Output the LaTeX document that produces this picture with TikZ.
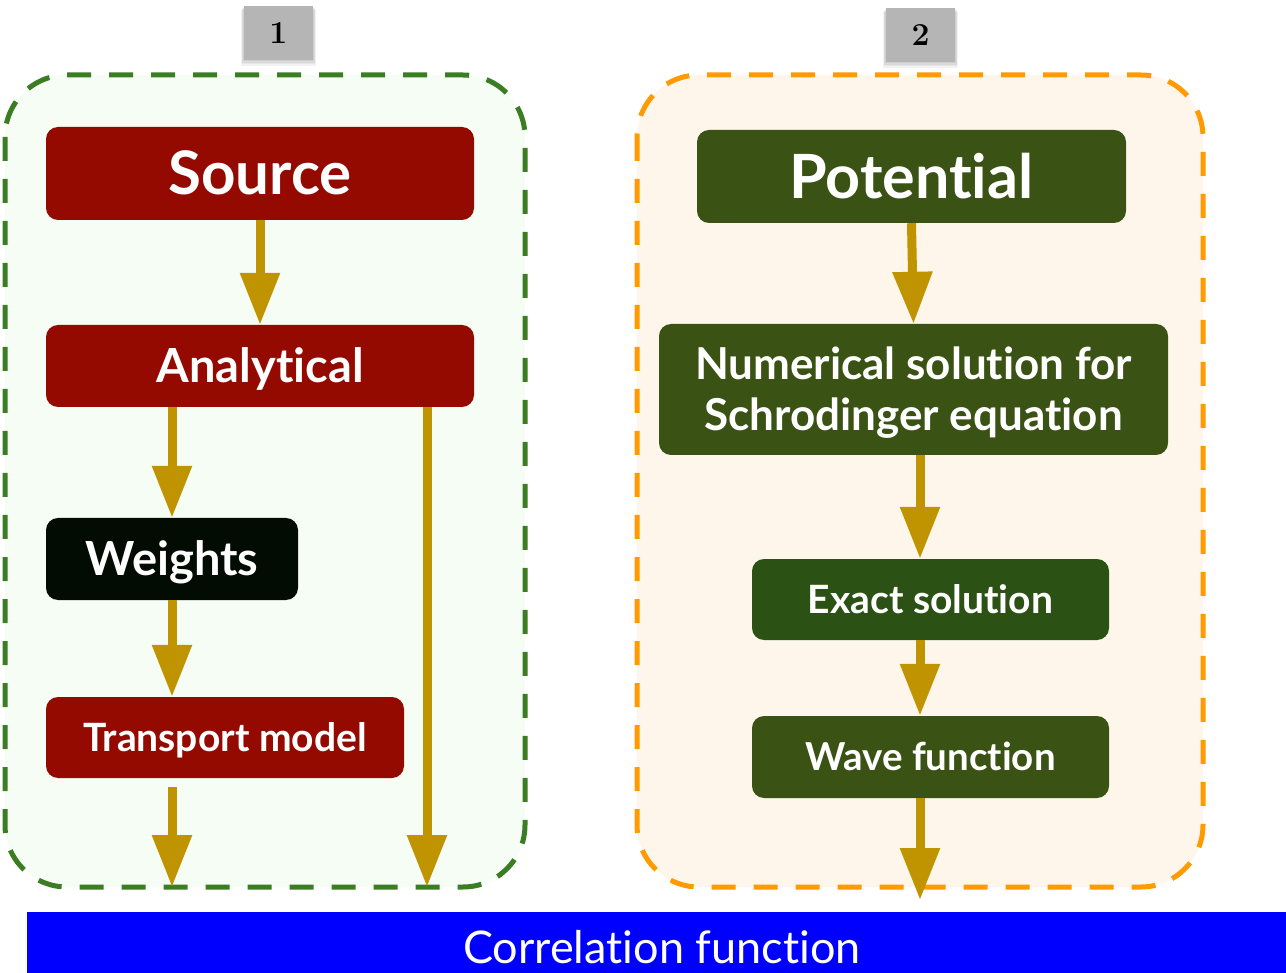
\documentclass[tikz,border=0pt]{standalone}
\usepackage{fontspec}
\setmainfont{Lato}[RawFeature={-liga;-clig;-calt;-dlig}]
\newfontfamily\numfont{Latin Modern Roman}
\usetikzlibrary{arrows.meta,calc}

\definecolor{srcred}{HTML}{940A00}
\definecolor{potgreen}{HTML}{3A5213}
\definecolor{solgreen}{HTML}{2C5114}
\definecolor{wtblack}{HTML}{020C02}
\definecolor{arrowgold}{HTML}{C09300}
\definecolor{grpgreen}{HTML}{3A7D22}
\definecolor{grporange}{HTML}{FF9A00}
\definecolor{fillgreen}{HTML}{F6FDF4}
\definecolor{fillorange}{HTML}{FEF6EA}
\definecolor{tagGray}{HTML}{B5B5B5}
\definecolor{barblue}{HTML}{0000FF}

\tikzset{
  group/.style={rounded corners=62, line width=5, dash pattern=on 24 off 18},
  stepbox/.style={rectangle, rounded corners=12, text=white, font=\bfseries,
    inner sep=0, align=center, text depth=0.1em},
  flow/.style={draw=arrowgold, line width=9,
    -{Triangle[width=38,length=52]}},
  tag/.style={rectangle, fill=tagGray, inner sep=0, minimum width=69,
    minimum height=54, font=\numfont\bfseries\fontsize{32}{32}\selectfont},
}

\begin{document}
\begin{tikzpicture}[x=1pt,y=-1pt]
\useasboundingbox (0,0) rectangle (1286,973);

% dashed group frames
\draw[group, draw=grpgreen, fill=fillgreen] (5,75) rectangle (525,887);
\draw[group, draw=grporange, fill=fillorange] (637,75) rectangle (1203,887);
\coordinate (g1b) at (265,887);
\coordinate (g2b) at (920,900);

% numbered tags with soft shadows
\foreach \o in {8,6,4,2}{
  \fill[black, opacity=0.05] (244-\o*0.4,6+\o*0.5) rectangle (313+\o*0.4,60+\o*0.7);
  \fill[black, opacity=0.05] (886-\o*0.4,8+\o*0.5) rectangle (955+\o*0.4,62+\o*0.7);
}
\node[tag] (t1) at (278.5,33) {1};
\node[tag] (t2) at (920.5,35) {2};

% left column
\node[stepbox, fill=srcred, minimum width=428, minimum height=93,
  font=\bfseries\fontsize{60}{66}\selectfont] (src) at (260,173.5) {Source};
\node[stepbox, fill=srcred, minimum width=428, minimum height=82,
  font=\bfseries\fontsize{47}{52}\selectfont] (ana) at (260,366) {Analytical};
\node[stepbox, fill=wtblack, minimum width=252, minimum height=82,
  font=\bfseries\fontsize{47}{52}\selectfont] (wts) at (172,559) {Weights};
\node[stepbox, fill=srcred, minimum width=358, minimum height=81,
  font=\bfseries\fontsize{39}{44}\selectfont] (trn) at (225,737.5) {Transport model};

% right column
\node[stepbox, fill=potgreen, minimum width=429, minimum height=93,
  font=\bfseries\fontsize{61}{66}\selectfont] (pot) at (911.5,176.5) {Potential};
\node[stepbox, fill=potgreen, minimum width=509, minimum height=131,
  font=\bfseries\fontsize{44}{51}\selectfont] (num) at (913.5,389.5)
  {Numerical solution for\\Schrodinger equation};
\node[stepbox, fill=solgreen, minimum width=357, minimum height=81,
  font=\bfseries\fontsize{39}{44}\selectfont] (ext) at (930.5,599.5) {Exact solution};
\node[stepbox, fill=potgreen, minimum width=357, minimum height=82,
  font=\bfseries\fontsize{38.5}{44}\selectfont] (wav) at (930.5,757) {Wave function};

% result bar
\node[rectangle, fill=barblue, inner sep=0, minimum width=1270, minimum height=61] (bar) at (662,942.5) {};
\node[text=white, font=\fontsize{45}{48}\selectfont, inner sep=0] (bartxt) at (662,947) {Correlation function};

% connectors, left column
\draw[flow] (src.south) -- (ana.north);
\draw[flow] (ana.south -| wts.north) -- (wts.north);
\draw[flow] (wts.south) -- (trn.north -| wts.south);
\draw[flow] ($(trn.south -| wts.south)+(0,9)$) -- (g1b -| wts.south);
\coordinate (ar) at (427,407);
\draw[flow] (ar) -- (ar |- g1b);

% connectors, right column
\draw[flow] (pot.south) -- (num.north);
\coordinate (cx) at (920,0);
\draw[flow] (num.south -| cx) -- (ext.north -| cx);
\draw[flow] (ext.south -| cx) -- (wav.north -| cx);
\draw[flow] (wav.south -| cx) -- (g2b);
\end{tikzpicture}
\end{document}
